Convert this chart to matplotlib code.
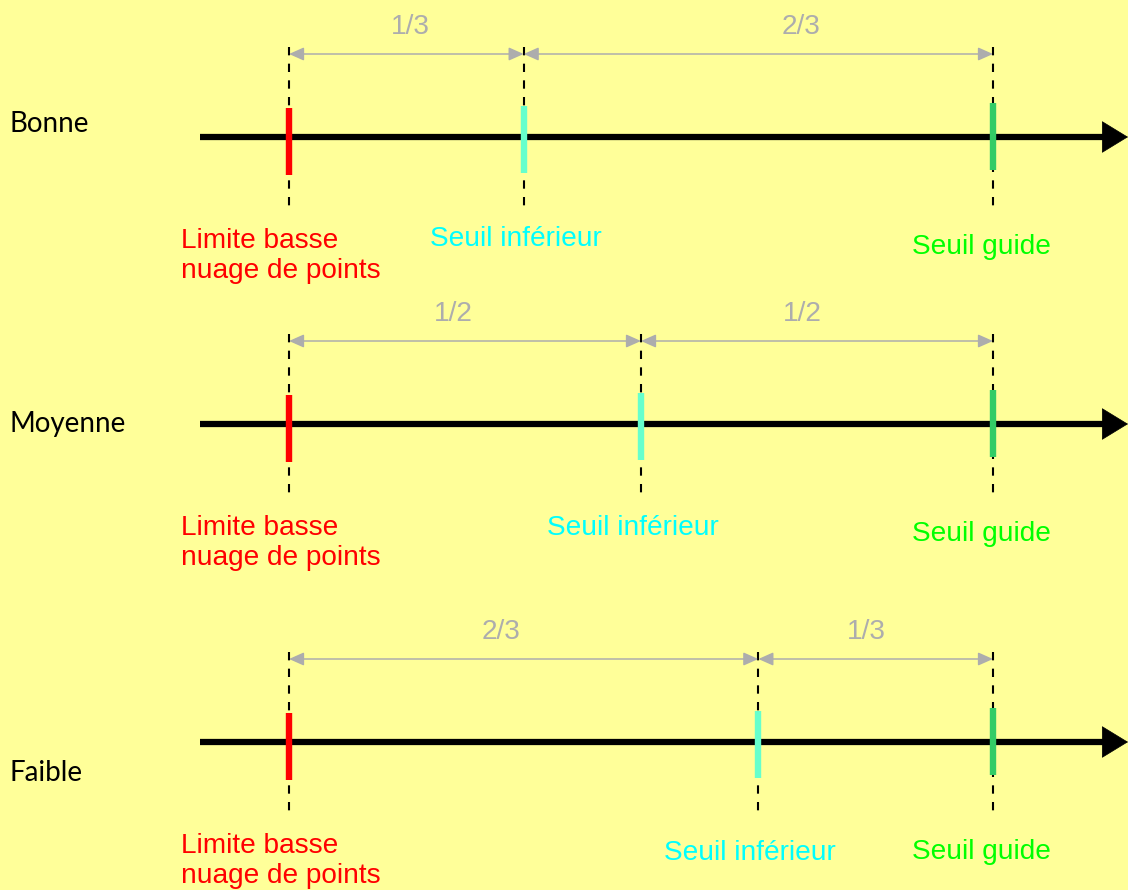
import matplotlib.pyplot as plt

# qualité -> position du seuil inférieur entre la limite basse (0) et le seuil guide (1)
rows = ["Bonne", "Moyenne", "Faible"]
inferior = [1 / 3, 1 / 2, 2 / 3]
left_parts = ["1/3", "1/2", "2/3"]
right_parts = ["2/3", "1/2", "1/3"]

low_label = "Limite basse\nnuage de points"
inf_label = "Seuil inférieur"
guide_label = "Seuil guide"

BG = "#FFFF99"
RED = "#FF0000"
CYAN_TICK = "#66FFCC"
GREEN_TICK = "#33CC66"
CYAN_TXT = "#00FFFF"
GREEN_TXT = "#00FF00"
GREY = "#ADADAD"

# layout (pixels)
W, H = 1128, 890
X0, X1 = 289, 993          # pixel of value 0 and value 1
ROW_Y = [137, 424, 742]
ROW_LABEL_DY = [-13, 0, 31]
INF_LABEL_DY = [102, 104, 111]
FRAC_DX = [(4, 43), (-12, -15), (-23, -9)]
FS = 20.2


def px(v):
    return X0 + v * (X1 - X0)


fig = plt.figure(figsize=(W / 100, H / 100), dpi=100, facecolor=BG)
ax = fig.add_axes([0, 0, 1, 1])
ax.set_xlim(0, W)
ax.set_ylim(H, 0)
ax.set_facecolor(BG)
ax.axis("off")

for i, name in enumerate(rows):
    y = ROW_Y[i]
    xs = [px(0), px(inferior[i]), px(1)]

    # main axis with arrow
    ax.plot([200, W - 20], [y, y], color="black", lw=4.5, solid_capstyle="butt")
    ax.annotate("", xy=(W, y), xytext=(W - 30, y),
                arrowprops=dict(arrowstyle="-|>,head_length=1.8,head_width=1.1",
                                lw=0.5, color="black", mutation_scale=10,
                                shrinkA=0, shrinkB=0))

    # dashed guides
    for x in xs:
        ax.plot([x, x], [y - 90, y + 71], color="black", lw=1.5,
                dashes=(4, 4), zorder=2)

    # ticks
    ax.plot([xs[0], xs[0]], [y - 29, y + 38], color=RED, lw=4.6,
            solid_capstyle="butt", zorder=3)
    ax.plot([xs[1], xs[1]], [y - 31, y + 36], color=CYAN_TICK, lw=4.6,
            solid_capstyle="butt", zorder=3)
    ax.plot([xs[2], xs[2]], [y - 34, y + 33], color=GREEN_TICK, lw=4.6,
            solid_capstyle="butt", zorder=3)

    # dimension arrows
    ya = y - 83
    for (a, b), lab, dx in zip([(xs[0], xs[1]), (xs[1], xs[2])],
                               [left_parts[i], right_parts[i]], FRAC_DX[i]):
        ax.annotate("", xy=(b, ya), xytext=(a, ya),
                    arrowprops=dict(arrowstyle="<|-|>,head_length=0.9,head_width=0.4",
                                    lw=1.1, color=GREY, mutation_scale=10,
                                    shrinkA=0, shrinkB=0))
        ax.text((a + b) / 2 + dx, ya - 27, lab, color=GREY, fontsize=FS,
                family="Liberation Sans", ha="center", va="center")

    # labels
    ax.text(10, y + ROW_LABEL_DY[i], name, fontsize=20, family="Lato",
            ha="left", va="center", color="black")
    ax.text(181, y + 119, low_label, color=RED, fontsize=FS,
            family="Liberation Sans", ha="left", va="center")
    ax.text(xs[1] - 8, y + INF_LABEL_DY[i], inf_label, color=CYAN_TXT,
            fontsize=FS, family="Liberation Sans", ha="center", va="center")
    ax.text(xs[2] - 12, y + 110, guide_label, color=GREEN_TXT, fontsize=FS,
            family="Liberation Sans", ha="center", va="center")

fig.savefig("out.png", dpi=100, facecolor=BG)
